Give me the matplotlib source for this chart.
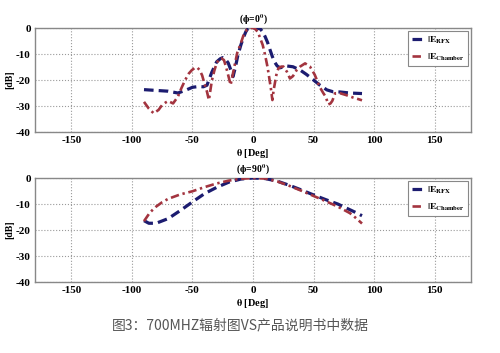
import matplotlib
matplotlib.use("Agg")
import matplotlib.pyplot as plt

plt.rcParams['mathtext.fontset'] = 'stix'
plt.rcParams['font.family'] = ['Liberation Serif', 'DejaVu Serif']
plt.rcParams['font.weight'] = 'bold'
plt.rcParams['axes.unicode_minus'] = False

# ---- data: phi = 0 deg ----
theta_rfx0 = [-90, -80, -70, -62, -56, -50, -45, -41, -38, -34, -30, -27, -25, -23,
              -20.5, -18, -16.5, -14.5, -12.5, -10, -8, -6, -4, 0, 3, 6, 8, 10, 12,
              14, 16, 18, 20, 22.3, 25, 28, 33, 39, 44, 50, 55, 61, 66, 72, 80, 90]
db_rfx0 = [-23.7, -24, -24.3, -25, -24, -22.8, -22.5, -22.6, -22, -17, -13, -11.8,
           -11.4, -11.8, -13.4, -16.5, -18.7, -15, -10.5, -6.5, -3.8, -1.5, 0, 0,
           0, -0.3, -1.5, -3.3, -5.5, -8.3, -11, -13.2, -14.6, -15.3, -15, -14.6,
           -14.9, -16.2, -17.8, -20, -21.9, -23.8, -24.5, -24.6, -25, -25.2]

theta_ch0 = [-90, -86, -82, -78, -75, -72, -70, -66, -62, -59, -56, -53, -50.5,
             -48, -46, -44, -42, -40, -38, -36.4, -34, -32, -30, -28, -26, -24,
             -22, -20, -18.5, -17, -15, -13, -10.5, -8, -5, -2, 1, 4, 6, 8, 10,
             12, 13.5, 15, 16, 17, 18.3, 19.5, 21, 23, 25, 28, 30.5, 33, 36, 39,
             43, 47, 51, 55, 58, 60, 62.2, 64, 65.5, 67.8, 72, 77, 83, 88, 90]
db_ch0 = [-28.4, -31, -32.8, -31.5, -29.6, -28.6, -28.1, -29, -26.4, -23, -20,
          -17.5, -16.2, -15.3, -15.2, -16.2, -18.2, -21.5, -24.5, -27.7, -20.3,
          -16.5, -13.5, -12, -11.7, -12.3, -15.4, -19, -21.9, -18.5, -14, -9.5,
          -6.5, -3, -0.6, 0, 0, -1.5, -4, -6.5, -10.4, -15, -19.4, -24, -27.7,
          -24, -20.6, -17.5, -15.5, -14.9, -14.8, -16.8, -19.4, -18.5, -16.2,
          -14.8, -13.6, -14.8, -18, -22.6, -25, -26.4, -29.4, -29, -28, -25.1,
          -25.1, -25.8, -26.8, -27.5, -27.8]

# ---- data: phi = 90 deg ----
theta_rfx90 = [-90, -86, -80, -70, -60, -50, -40, -30, -20, -10, 0, 10, 20, 30,
               40, 50, 60, 70, 80, 85, 90]
db_rfx90 = [-16.4, -17.4, -17.4, -15.6, -12.5, -9.2, -6.0, -3.6, -1.6, -0.4, 0,
            -0.2, -1.2, -2.8, -4.6, -6.5, -8.3, -10.0, -12.2, -13.3, -14.5]
theta_ch90 = [-90, -85, -80, -75, -70, -60, -50, -40, -30, -20, -10, 0, 10, 20,
              30, 40, 50, 60, 70, 80, 85, 90]
db_ch90 = [-16.6, -13.2, -11.0, -9.3, -8.0, -6.3, -5.1, -3.5, -2.1, -1.0, -0.3, 0,
           -0.2, -1.3, -3.0, -4.9, -6.9, -8.9, -11.0, -13.5, -15.4, -17.5]

titles = ['($\\mathbf{\\phi}$=0$^{\\mathbf{0}}$)', '($\\mathbf{\\phi}$=90$^{\\mathbf{0}}$)']
xticks = [-150, -100, -50, 0, 50, 100, 150]
yticks = [0, -10, -20, -30, -40]
label_rfx = r'$\mathbf{|E_{RFX}}$'
label_ch = r'$\mathbf{|E_{Chamber}}$'
caption = '图3：700MHZ辐射图VS产品说明书中数据'

blue = '#1c1c70'
red = '#a3343f'

fig = plt.figure(figsize=(5.0, 3.53), dpi=100)
axes = [fig.add_axes([0.070, 0.626, 0.872, 0.2946]),
        fig.add_axes([0.070, 0.2011, 0.872, 0.2946])]

datasets = [(theta_rfx0, db_rfx0, theta_ch0, db_ch0),
            (theta_rfx90, db_rfx90, theta_ch90, db_ch90)]

for ax, (tr, dr, tc, dc), title in zip(axes, datasets, titles):
    ax.plot(tr, dr, color=blue, lw=2.3, ls=(0, (3.0, 1.6)), label=label_rfx,
            zorder=3, solid_joinstyle='round')
    ax.plot(tc, dc, color=red, lw=1.9, ls=(0, (3.2, 1.4, 0.9, 1.4)), label=label_ch,
            zorder=4)
    ax.set_xlim(-180, 180)
    ax.set_ylim(-40, 0)
    ax.set_xticks(xticks)
    ax.set_yticks(yticks)
    ax.grid(True, ls=':', color='#9a9a9a', lw=0.8)
    for s in ax.spines.values():
        s.set_color('#888888')
        s.set_linewidth(1.0)
    ax.tick_params(length=0, pad=3, labelsize=8)
    ax.set_title(title, fontsize=7, fontweight='bold', pad=4)
    ax.set_xlabel(r'$\mathbf{\theta}$ [Deg]', fontsize=7.5, fontweight='bold',
                  labelpad=1)
    ax.set_ylabel('[dB]', fontsize=7, fontweight='bold', labelpad=1)
    leg = ax.legend(loc='upper right', fontsize=6.8, handlelength=1.3,
                    borderaxespad=0.3, fancybox=False, framealpha=1,
                    edgecolor='#888888', handletextpad=0.3, labelspacing=0.6,
                    borderpad=0.4)
    leg.get_frame().set_linewidth(0.8)

fig.text(0.48, 0.078, caption, ha='center', va='center', fontsize=10,
         fontweight='normal', color='#555555',
         family=['Noto Sans CJK SC', 'DejaVu Sans'])

fig.savefig('out.png', dpi=100)
